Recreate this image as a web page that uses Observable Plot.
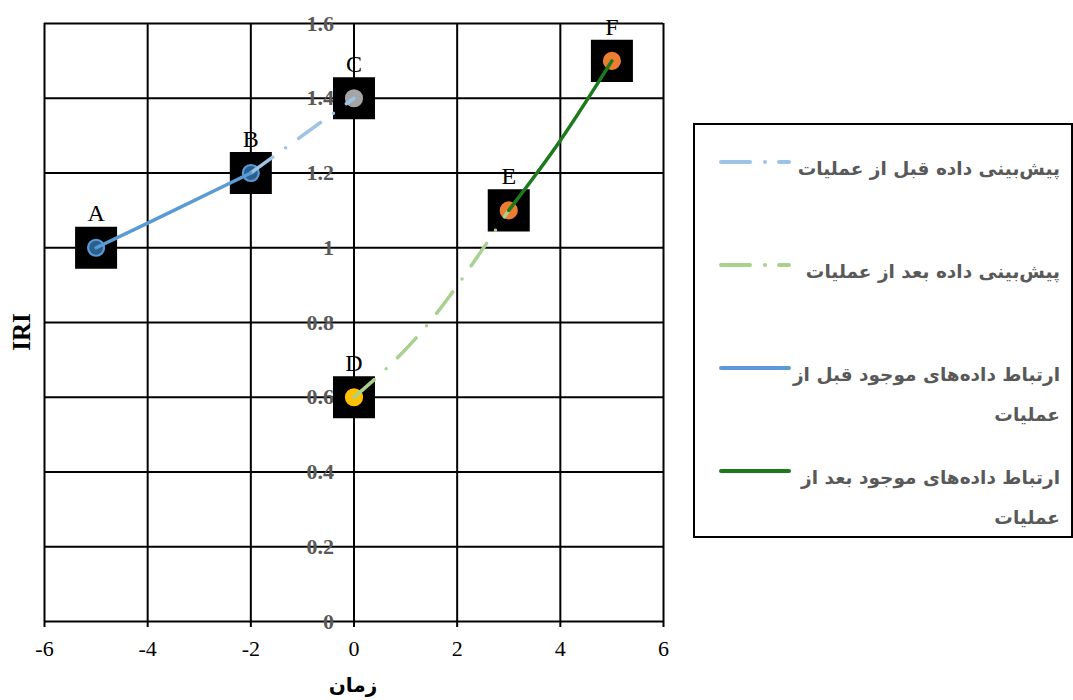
<!DOCTYPE html>
<html>
<head>
<meta charset="utf-8">
<script src="https://cdn.jsdelivr.net/npm/d3@7"></script>
<script src="https://cdn.jsdelivr.net/npm/@observablehq/plot@0.6"></script>
<style>
  html, body { margin: 0; padding: 0; background: #fff; overflow: hidden; }
  #wrap { position: relative; width: 1073px; height: 700px; }
  #wrap svg { position: absolute; left: 0; top: 0; }
  .title { position: absolute; font-weight: bold; color: #000; white-space: nowrap; }
  #xtitle { left: 253px; width: 200px; top: 672px; line-height: 26px; text-align: center;
            font-family: "DejaVu Sans", sans-serif; font-size: 20px; direction: rtl; }
  #ytitle { left: -8px; top: 317px; width: 60px; line-height: 30px; text-align: center;
            font-family: "Liberation Serif", "Times New Roman", serif; font-size: 25px;
            transform: rotate(-90deg); }
  #legend { position: absolute; left: 693px; top: 123px; width: 376px; height: 411px;
            border: 2px solid #000; background: #fff; }
  #legend svg { position: absolute; left: 0; top: 0; }
  .entry { position: absolute; right: 11px; direction: rtl; text-align: right;
           font-family: "DejaVu Sans", sans-serif; font-weight: bold; font-size: 18.5px;
           line-height: 40px; color: #595959; white-space: nowrap; }
</style>
</head>
<body>
<div id="wrap"></div>
<script>
// Measured points (time vs. IRI)
const pointLabels = ["A", "B", "C", "D", "E", "F"];
const pointTime = [-5, -2, 0, 0, 3, 5];
const pointIRI = [1.0, 1.2, 1.4, 0.6, 1.1, 1.5];

// Connection curves between points
const fitBeforeTime = [-5, -4, -2];
const fitBeforeIRI = [1.0, 1.066, 1.2];
const predictBeforeTime = [-2, 0];
const predictBeforeIRI = [1.2, 1.4];
const predictAfterTime = [0, 1.4, 3];
const predictAfterIRI = [0.6, 0.79, 1.1];
const fitAfterTime = [3, 4, 5];
const fitAfterIRI = [1.1, 1.287, 1.5];

// Axis ticks
const xTicks = [-6, -4, -2, 0, 2, 4, 6];
const yTicks = [0, 0.2, 0.4, 0.6, 0.8, 1, 1.2, 1.4, 1.6];

// Legend entries
const legendTexts = [
  ["پیش‌بینی داده قبل از عملیات"],
  ["پیش‌بینی داده بعد از عملیات"],
  ["ارتباط داده‌های موجود قبل از", "عملیات"],
  ["ارتباط داده‌های موجود بعد از", "عملیات"]
];

// Styles
const markerFill = {A: "#2b5f8e", B: "#2b5f8e", C: "#a5a5a5", D: "#ffc000", E: "#ed7d31", F: "#ed7d31"};
const markerRing = {A: "#5b9bd5", B: "#5b9bd5", C: "#a5a5a5", D: "#ffc000", E: "#ed7d31", F: "#ed7d31"};
const seriesStyle = [
  {stroke: "#9dc3e6", dash: "27,16,0,16"},
  {stroke: "#a9d18e", dash: "27,16,0,16"},
  {stroke: "#5b9bd5", dash: null},
  {stroke: "#1c7a1c", dash: null}
];

const points = pointLabels.map((label, i) => ({label, time: pointTime[i], iri: pointIRI[i]}));
const series = (t, v) => t.map((time, i) => ({time, iri: v[i]}));

const dashed = {strokeWidth: 3.5, strokeLinecap: "round", curve: "natural"};

const chart = Plot.plot({
  width: 1073,
  height: 700,
  marginLeft: 44,
  marginRight: 410,
  marginTop: 23,
  marginBottom: 79,
  style: {fontFamily: "'Liberation Serif', 'Times New Roman', serif", background: "transparent"},
  x: {domain: [-6, 6]},
  y: {domain: [0, 1.6], axis: null},
  color: {type: "identity"},
  marks: [
    Plot.ruleX(xTicks, {stroke: "#000", strokeWidth: 2}),
    Plot.ruleY(yTicks, {stroke: "#000", strokeWidth: 2}),
    Plot.axisX({ticks: xTicks, tickSize: 6, tickPadding: 13, tickFormat: d => String(d),
                fontSize: 22, strokeWidth: 2, label: null, fill: "#000"}),
    Plot.text(yTicks, {x: () => 0, y: d => d, text: d => String(d), textAnchor: "end", dx: -20,
                       fontSize: 22, fontWeight: "bold", fill: "#595959"}),
    Plot.dot(points, {x: "time", y: "iri", symbol: "square", r: 23.7, fill: "#000"}),
    Plot.dot(points, {x: "time", y: "iri", r: 8, fill: d => markerFill[d.label],
                      stroke: d => markerRing[d.label], strokeWidth: 2.2}),
    Plot.line(series(predictAfterTime, predictAfterIRI), {x: "time", y: "iri", stroke: seriesStyle[1].stroke,
              strokeDasharray: seriesStyle[1].dash, ...dashed}),
    Plot.line(series(predictBeforeTime, predictBeforeIRI), {x: "time", y: "iri", stroke: seriesStyle[0].stroke,
              strokeDasharray: seriesStyle[0].dash, ...dashed}),
    Plot.line(series(fitBeforeTime, fitBeforeIRI), {x: "time", y: "iri", stroke: seriesStyle[2].stroke,
              strokeWidth: 3.5, curve: "natural"}),
    Plot.line(series(fitAfterTime, fitAfterIRI), {x: "time", y: "iri", stroke: seriesStyle[3].stroke,
              strokeWidth: 3.5, curve: "natural"}),
    Plot.text(points, {x: "time", y: "iri", text: "label", dy: -34, fontSize: 24, fill: "#000"})
  ]
});

const wrap = document.getElementById("wrap");
wrap.appendChild(chart);

// Axis titles
const xt = document.createElement("div");
xt.className = "title"; xt.id = "xtitle"; xt.textContent = "زمان";
wrap.appendChild(xt);
const yt = document.createElement("div");
yt.className = "title"; yt.id = "ytitle"; yt.textContent = "IRI";
wrap.appendChild(yt);

// Legend box
const legend = document.createElement("div");
legend.id = "legend";
wrap.appendChild(legend);
const rowTop = [24, 127, 230, 333];
const sampleY = [37, 140, 243, 346];
const lsvg = d3.select(legend).append("svg").attr("width", 376).attr("height", 411);
seriesStyle.forEach((s, i) => {
  lsvg.append("line")
    .attr("x1", 26).attr("x2", 94).attr("y1", sampleY[i]).attr("y2", sampleY[i])
    .attr("stroke", s.stroke).attr("stroke-width", 4).attr("stroke-linecap", "round")
    .attr("stroke-dasharray", s.dash ? "29,15,0,14" : null);
  const e = document.createElement("div");
  e.className = "entry";
  e.style.top = rowTop[i] + "px";
  e.innerHTML = legendTexts[i].join("<br>");
  legend.appendChild(e);
});
</script>
</body>
</html>
